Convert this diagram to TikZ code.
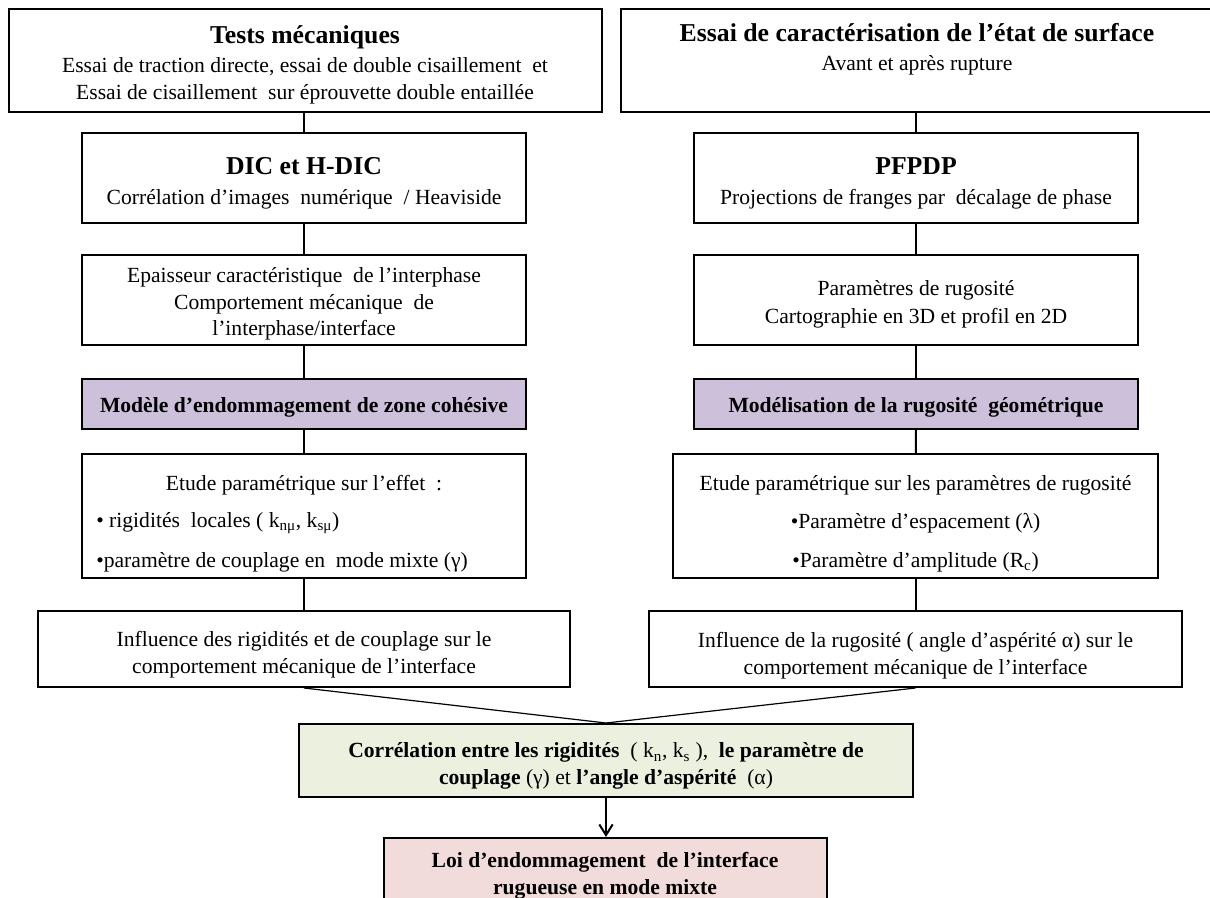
\documentclass[tikz,border=0pt]{standalone}
\usepackage{fontspec}
\setmainfont{Liberation Serif}
\usetikzlibrary{arrows.meta}
\definecolor{lav}{HTML}{CCC0DA}
\definecolor{lgreen}{HTML}{EBF1DE}
\definecolor{lpink}{HTML}{F2DCDB}
\newcommand{\ttlfont}{\fontsize{19.3}{22}\selectfont\bfseries}
\begin{document}
\begin{tikzpicture}[x=0.75pt,y=-0.75pt,
  box/.style={draw, line width=1.5pt, inner sep=0pt, fill=white},
  wh/.style 2 args={minimum width=#1*0.75pt, minimum height=#2*0.75pt},
  body/.style={font=\fontsize{16.2}{20}\selectfont},
  txt/.style={inner sep=0pt, align=center},
  conn/.style={line width=1.5pt},
  thin/.style={line width=0.9pt}]
\useasboundingbox (0,0) rectangle (1210,898);
% top row
\node[box, wh={593}{103}] (b1) at (305,60.5) {};
\node[txt, body] (b1t) at (305,65)
  {{\ttlfont Tests mécaniques}\\[1.5pt]
   Essai de traction directe, essai de double cisaillement~ et\\
   Essai de cisaillement~ sur éprouvette double entaillée};
\node[box, wh={593}{103}] (b2) at (917,60.5) {};
\node[txt, body] (b2t) at (917,49.5)
  {{\ttlfont Essai de caractérisation de l’état de surface}\\[1.5pt]
   Avant et après rupture};
% second row
\node[box, wh={444}{90}] (dic) at (304,178) {};
\node[txt, body] (dict) at (304,183)
  {{\ttlfont DIC et H-DIC}\\[2.5pt]
   Corrélation d’images~ numérique~ / Heaviside};
\node[box, wh={444}{90}] (pf) at (916,178) {};
\node[txt, body] (pft) at (916,183)
  {{\ttlfont PFPDP}\\[2.5pt]
   Projections de franges par~ décalage de phase};
% third row
\node[box, wh={444}{90}] (ep) at (304,300) {};
\node[txt, body] (ept) at (304,304)
  {Epaisseur caractéristique~ de l’interphase\\
   Comportement mécanique~ de\\
   l’interphase/interface};
\node[box, wh={444}{90}] (par) at (916,300) {};
\node[txt, body] (part) at (916,304)
  {Paramètres de rugosité\\[1pt]
   Cartographie en 3D et profil en 2D};
% fourth row
\node[box, wh={444}{50}, fill=lav] (mod) at (304,404) {};
\node[txt, font=\fontsize{16.2}{20}\selectfont\bfseries] (modt) at (304,407)
  {Modèle d’endommagement de zone cohésive};
\node[box, wh={444}{50}, fill=lav] (modr) at (916,404) {};
\node[txt, font=\fontsize{16.2}{20}\selectfont\bfseries] (modrt) at (916,407)
  {Modélisation de la rugosité~ géométrique};
% fifth row
\node[box, wh={444}{124}] (etl) at (304,516) {};
\node[txt, body] (etl1) at (304,485) {Etude paramétrique sur l’effet~ :};
\node[txt, body, anchor=west] (etl2) at (96,523) {• rigidités~ locales ( k\textsubscript{nμ}, k\textsubscript{sμ})};
\node[txt, body, anchor=west] (etl3) at (96,562) {•paramètre de couplage en~ mode mixte (γ)};
\node[box, wh={485}{124}] (etr) at (915.5,516) {};
\node[txt, body] (etr1) at (915.5,485) {Etude paramétrique sur les paramètres de rugosité};
\node[txt, body] (etr2) at (915.5,523) {•Paramètre d’espacement (λ)};
\node[txt, body] (etr3) at (915.5,562) {•Paramètre d’amplitude (R\textsubscript{c})};
% sixth row
\node[box, wh={532}{76}] (infl) at (304,649) {};
\node[txt, body] (inflt) at (304,655)
  {Influence des rigidités et de couplage sur le\\
   comportement mécanique de l’interface};
\node[box, wh={533}{76}] (infr) at (915.5,649) {};
\node[txt, body] (infrt) at (915.5,656)
  {Influence de la rugosité ( angle d’aspérité α) sur le\\
   comportement mécanique de l’interface};
% bottom
\node[box, wh={614}{73}, fill=lgreen] (cor) at (606,760.5) {};
\node[txt, body] (cort) at (606,766)
  {\textbf{Corrélation entre les rigidités}~ ( k\textsubscript{n}, k\textsubscript{s} ),~ \textbf{le paramètre de}\\
   \textbf{couplage} (γ) et \textbf{l’angle d’aspérité}~ (α)};
\node[box, wh={443}{72}, fill=lpink] (loi) at (605,874) {};
\node[txt, font=\fontsize{16.2}{20}\selectfont\bfseries] (loit) at (605,876)
  {Loi d’endommagement~ de l’interface\\
   rugueuse en mode mixte};
% connectors
\draw[conn] (b1.south -| dic.north) -- (dic.north);
\draw[conn] (dic) -- (ep);
\draw[conn] (ep) -- (mod);
\draw[conn] (mod) -- (etl);
\draw[conn] (etl.south) -- (infl.north);
\draw[conn] (b2.south -| pf.north) -- (pf.north);
\draw[conn] (pf) -- (par);
\draw[conn] (par) -- (modr);
\draw[conn] (modr) -- (etr);
\draw[conn] (etr.south) -- (infr.north);
\draw[thin] (infl.south) -- (cor.north);
\draw[thin] (infr.south) -- (cor.north);
\draw[conn, -{Straight Barb[length=8pt, width=10pt, line width=1.5pt]}] (cor.south) -- (cor.south |- loi.north);
\end{tikzpicture}
\end{document}
